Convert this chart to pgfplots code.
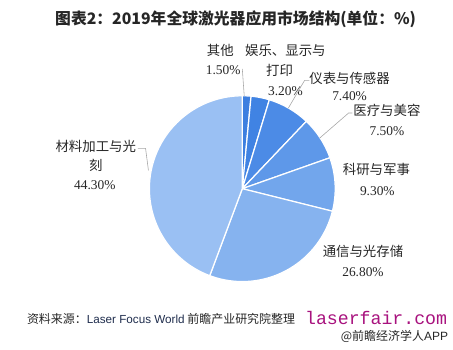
\documentclass[border=0pt]{standalone}
\usepackage{fontspec}
\setmainfont{Liberation Serif}
\newfontfamily\cjk{Noto Sans CJK SC}
\newfontfamily\arial{Liberation Sans}
\newfontfamily\mono{Liberation Mono}
\usepackage{pgfplots}
\pgfplotsset{compat=1.18}
\definecolor{cA}{HTML}{3D7FE0}
\definecolor{cB}{HTML}{4083E3}
\definecolor{cC}{HTML}{4C8BE6}
\definecolor{cD}{HTML}{5E98E9}
\definecolor{cE}{HTML}{72A6EC}
\definecolor{cF}{HTML}{86B3EF}
\definecolor{cG}{HTML}{9AC0F3}
\definecolor{txt}{HTML}{262626}
\definecolor{lead}{HTML}{A6A6A6}
\definecolor{mag}{HTML}{A8127E}
% shares (%), clockwise from 12 o'clock
\def\vA{1.5}  % 其他
\def\vB{3.2}  % 娱乐、显示与打印
\def\vC{7.4}  % 仪表与传感器
\def\vD{7.5}  % 医疗与美容
\def\vE{9.3}  % 科研与军事
\def\vF{26.8} % 通信与光存储
\def\vG{44.3} % 材料加工与光刻
\begin{document}
\pgfmathsetmacro\aA{90}
\pgfmathsetmacro\aB{\aA-3.6*\vA}
\pgfmathsetmacro\aC{\aB-3.6*\vB}
\pgfmathsetmacro\aD{\aC-3.6*\vC}
\pgfmathsetmacro\aE{\aD-3.6*\vD}
\pgfmathsetmacro\aF{\aE-3.6*\vE}
\pgfmathsetmacro\aG{\aF-3.6*\vF}
\pgfmathsetmacro\aH{\aG-3.6*\vG}
\begin{tikzpicture}
\path[use as bounding box] (0pt,0pt) rectangle (453pt,365pt);
\begin{axis}[at={(233pt,168pt)}, anchor=center, width=194pt, height=194pt,
  scale only axis, hide axis, xmin=-1, xmax=1, ymin=-1, ymax=1, clip=false]
\addplot[fill=cA, draw=white, line width=1.3pt, domain=\aA:\aB, samples=20, variable=\t] ({cos(\t)},{sin(\t)}) -- (axis cs:0,0) -- cycle;
\addplot[fill=cB, draw=white, line width=1.3pt, domain=\aB:\aC, samples=20, variable=\t] ({cos(\t)},{sin(\t)}) -- (axis cs:0,0) -- cycle;
\addplot[fill=cC, draw=white, line width=1.3pt, domain=\aC:\aD, samples=30, variable=\t] ({cos(\t)},{sin(\t)}) -- (axis cs:0,0) -- cycle;
\addplot[fill=cD, draw=white, line width=1.3pt, domain=\aD:\aE, samples=30, variable=\t] ({cos(\t)},{sin(\t)}) -- (axis cs:0,0) -- cycle;
\addplot[fill=cE, draw=white, line width=1.3pt, domain=\aE:\aF, samples=30, variable=\t] ({cos(\t)},{sin(\t)}) -- (axis cs:0,0) -- cycle;
\addplot[fill=cF, draw=white, line width=1.3pt, domain=\aF:\aG, samples=60, variable=\t] ({cos(\t)},{sin(\t)}) -- (axis cs:0,0) -- cycle;
\addplot[fill=cG, draw=white, line width=1.3pt, domain=\aG:\aH, samples=90, variable=\t] ({cos(\t)},{sin(\t)}) -- (axis cs:0,0) -- cycle;
\end{axis}
% title
\node[font=\cjk\bfseries\fontsize{16.5}{18}\selectfont, text=txt] at (226pt,345pt) {图表2：2019年全球激光器应用市场结构(单位：\%)};
% labels
\tikzset{lab/.style={font=\cjk\fontsize{14}{16}\selectfont, text=txt, inner sep=0pt},
         pct/.style={font=\fontsize{14}{16}\selectfont, text=txt, inner sep=0pt}}
\node[lab] at (210pt,312pt) {其他};
\node[pct] at (213pt,292pt) {1.50\%};
\node[lab] at (278pt,312pt) {娱乐、显示与};
\node[lab] at (272pt,292pt) {打印};
\node[pct] at (278pt,270pt) {3.20\%};
\node[lab] at (345pt,283pt) {仪表与传感器};
\node[pct] at (345pt,265pt) {7.40\%};
\node[lab] at (384pt,250pt) {医疗与美容};
\node[pct] at (384pt,228pt) {7.50\%};
\node[lab] at (373pt,188pt) {科研与军事};
\node[pct] at (374pt,165pt) {9.30\%};
\node[lab] at (359pt,103pt) {通信与光存储};
\node[pct] at (359pt,81pt) {26.80\%};
\node[lab] at (80pt,212pt) {材料加工与光};
\node[lab] at (80pt,192pt) {刻};
\node[pct] at (79pt,172pt) {44.30\%};
% leader lines
\draw[lead, line width=0.6pt] (233pt,293pt) -- (235pt,265pt);
\draw[lead, line width=0.6pt] (303pt,281pt) -- (298pt,281pt) -- (281pt,252pt);
\draw[lead, line width=0.6pt] (348pt,247pt) -- (344pt,247pt) -- (314pt,221pt);
\draw[lead, line width=0.6pt] (124pt,210pt) -- (132pt,210pt) -- (135pt,187pt);
% footer
\node[anchor=west, inner sep=0pt, text=txt, font=\cjk\fontsize{12.5}{14}\selectfont] at (8pt,32pt) {资料来源：{\arial\fontsize{12.2}{14}\selectfont\color[HTML]{1F2D4D}Laser Focus World} 前瞻产业研究院整理};
\node[anchor=east, inner sep=0pt, text=mag, font=\mono\fontsize{19}{21}\selectfont] at (447pt,33pt) {laserfair.com};
\node[anchor=east, inner sep=0pt, text=txt, font=\cjk\fontsize{12.5}{14}\selectfont] at (448pt,14pt) {@前瞻经济学人{\arial APP}};
\end{tikzpicture}
\end{document}
